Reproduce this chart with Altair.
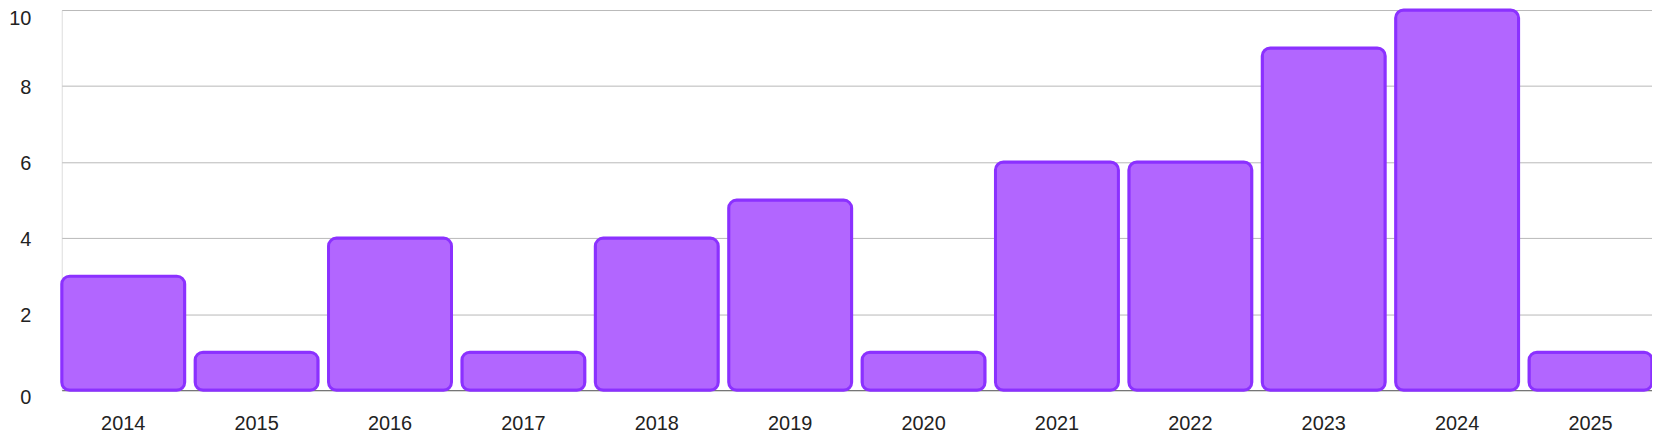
import altair as alt
import pandas as pd

years = ["2014", "2015", "2016", "2017", "2018", "2019", "2020", "2021", "2022", "2023", "2024", "2025"]
counts = [3, 1, 4, 1, 4, 5, 1, 6, 6, 9, 10, 1]
y_ticks = [0, 2, 4, 6, 8, 10]

df = pd.DataFrame({"year": years, "count": counts})

FONT = "Liberation Sans"

chart = alt.Chart(df).mark_bar(
    fill="#b266ff",
    stroke="#8b31ff",
    strokeWidth=3,
    cornerRadius=8,
).encode(
    x=alt.X(
        "year:N",
        sort=years,
        title=None,
        scale=alt.Scale(paddingInner=0.078, paddingOuter=0.0),
        axis=alt.Axis(
            labelAngle=0,
            ticks=False,
            domain=True,
            domainColor="#666666",
            domainWidth=1,
            grid=False,
            labelPadding=24,
            labelBaseline="top",
            labelFont=FONT,
            labelFontSize=20,
            labelColor="#222222",
        ),
    ),
    y=alt.Y(
        "count:Q",
        title=None,
        scale=alt.Scale(domain=[0, 10], nice=False),
        axis=alt.Axis(
            values=y_ticks,
            ticks=False,
            domain=False,
            grid=True,
            gridColor="#b8b8b8",
            gridWidth=1,
            labelPadding=31,
            labelAlign="right",
            labelBaseline="middle",
            labelOffset={
                "condition": [
                    {"test": "datum.value == 10", "value": 9},
                    {"test": "datum.value == 0", "value": 7},
                ],
                "value": 1.5,
            },
            labelFont=FONT,
            labelFontSize=20,
            labelColor="#222222",
        ),
    ),
).properties(
    width=1598,
    height=382,
    autosize=alt.AutoSizeParams(type="none"),
    padding={"left": 54, "top": 1, "right": 0, "bottom": 43},
).configure_view(
    stroke=None
).configure(
    background="white"
)

chart.save("out.html", embed_options={"renderer": "svg", "actions": False})
